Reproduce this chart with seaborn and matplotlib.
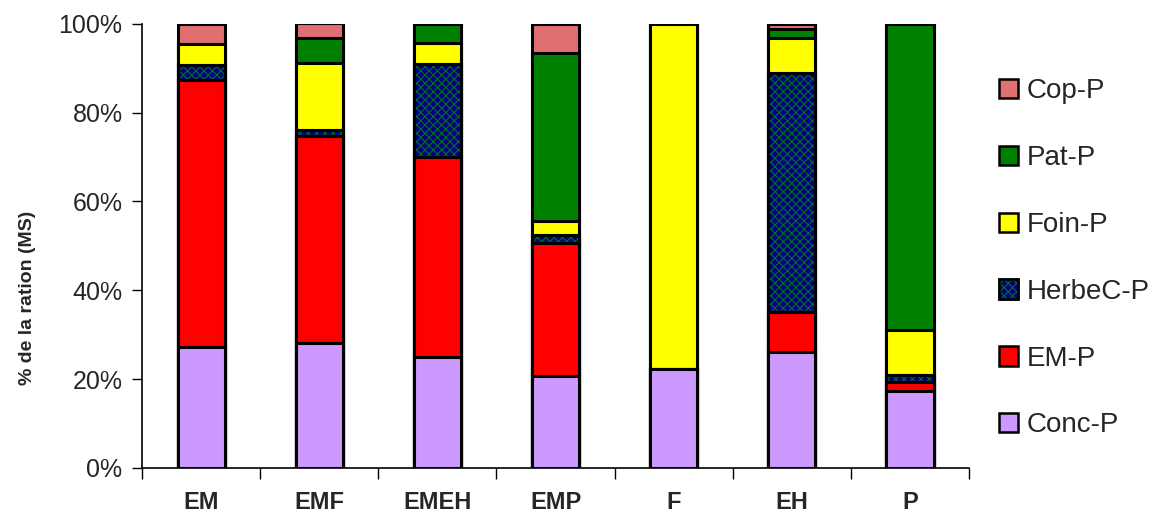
import matplotlib
matplotlib.use("Agg")
import matplotlib.pyplot as plt
import matplotlib.patches as mpatches
from matplotlib.ticker import FixedLocator, PercentFormatter
import numpy as np
import pandas as pd
import seaborn as sns

# Ration composition (% of dry matter) per feeding system
categories = ["EM", "EMF", "EMEH", "EMP", "F", "EH", "P"]
conc_p = [27.3, 28.1, 24.9, 20.8, 22.3, 26.2, 17.4]
em_p = [60.1, 46.7, 45.1, 29.8, 0.0, 9.0, 1.9]
herbec_p = [3.4, 1.2, 21.0, 1.8, 0.0, 53.8, 1.6]
foin_p = [4.7, 15.1, 4.7, 3.1, 77.7, 7.9, 10.2]
pat_p = [0.0, 5.6, 4.2, 37.9, 0.0, 1.9, 68.9]
cop_p = [4.5, 3.5, 0.0, 6.6, 0.0, 1.2, 0.0]

series_names = ["Conc-P", "EM-P", "HerbeC-P", "Foin-P", "Pat-P", "Cop-P"]
series_values = [conc_p, em_p, herbec_p, foin_p, pat_p, cop_p]
series_colors = ["#CC99FF", "#FF0000", "#000080", "#FFFF00", "#008000", "#E07070"]

sns.set_style("white")
plt.rcParams["font.family"] = ["Liberation Sans", "DejaVu Sans"]
plt.rcParams["hatch.linewidth"] = 0.8

fig = plt.figure(figsize=(11.55, 5.17), dpi=100)
ax = fig.add_axes([0.123, 0.095, 0.716, 0.859])

# Stacked bars: cumulative totals drawn from the top layer down,
# so each lower layer covers the part of the taller bar beneath it.
cumulative = np.cumsum(np.array(series_values), axis=0)
layers = list(zip(series_names, cumulative, series_colors))[::-1]
for i, (name, tops, col) in enumerate(layers):
    df = pd.DataFrame({"cat": categories, "val": tops})
    z = 2 + i * 0.1
    sns.barplot(data=df, x="cat", y="val", order=categories,
                color=col, saturation=1, width=0.4, edgecolor="black",
                linewidth=2.2, ax=ax, zorder=z)
    if name == "HerbeC-P":
        # green cross-hatch texture over the navy fill
        sns.barplot(data=df, x="cat", y="val", order=categories,
                    color="#007020", fill=False, saturation=1, width=0.4,
                    linewidth=0, hatch="xxxx", ax=ax, zorder=z + 0.02)
        sns.barplot(data=df, x="cat", y="val", order=categories,
                    color="black", fill=False, saturation=1, width=0.4,
                    linewidth=2.2, ax=ax, zorder=z + 0.04)

ax.set_xlim(-0.5, len(categories) - 0.5)
ax.set_ylim(0, 100)
ax.yaxis.set_major_locator(FixedLocator([0, 20, 40, 60, 80, 100]))
ax.yaxis.set_major_formatter(PercentFormatter(decimals=0))

ax.set_xticks(range(len(categories)))
ax.set_xticklabels(categories, fontsize=17, fontweight="bold")
ax.xaxis.set_minor_locator(FixedLocator(np.arange(-0.5, len(categories), 1.0)))
ax.tick_params(axis="x", which="major", bottom=True, length=0, pad=17)
ax.tick_params(axis="x", which="minor", bottom=True, length=8, width=1,
               color="black", direction="out")
ax.tick_params(axis="y", which="major", left=True, length=7, width=1,
               color="black", direction="out", labelsize=18, pad=7)

ax.set_xlabel("")
ax.set_ylabel("% de la ration (MS)", fontsize=14, fontweight="bold")
ax.yaxis.set_label_coords(-0.128, 0.383)

for side in ["top", "right"]:
    ax.spines[side].set_visible(False)
for side in ["left", "bottom"]:
    ax.spines[side].set_color("black")
    ax.spines[side].set_linewidth(1.2)

handles = []
for name, col in zip(series_names, series_colors):
    base = mpatches.Patch(facecolor=col, edgecolor="black", linewidth=1.8,
                          label=name)
    if name == "HerbeC-P":
        texture = mpatches.Patch(facecolor="none", edgecolor="#007020",
                                 linewidth=0, hatch="xxxx")
        outline = mpatches.Patch(facecolor="none", edgecolor="black",
                                 linewidth=1.8)
        handles.append((base, texture, outline))
    else:
        handles.append(base)
handles = handles[::-1]
labels = series_names[::-1]
leg = fig.legend(handles=handles, labels=labels, loc="upper left",
                 bbox_to_anchor=(0.855, 0.87), frameon=False, fontsize=20,
                 labelspacing=1.47, handlelength=0.7, handleheight=0.7,
                 handletextpad=0.3, borderaxespad=0)

fig.savefig("out.png", dpi=100)
